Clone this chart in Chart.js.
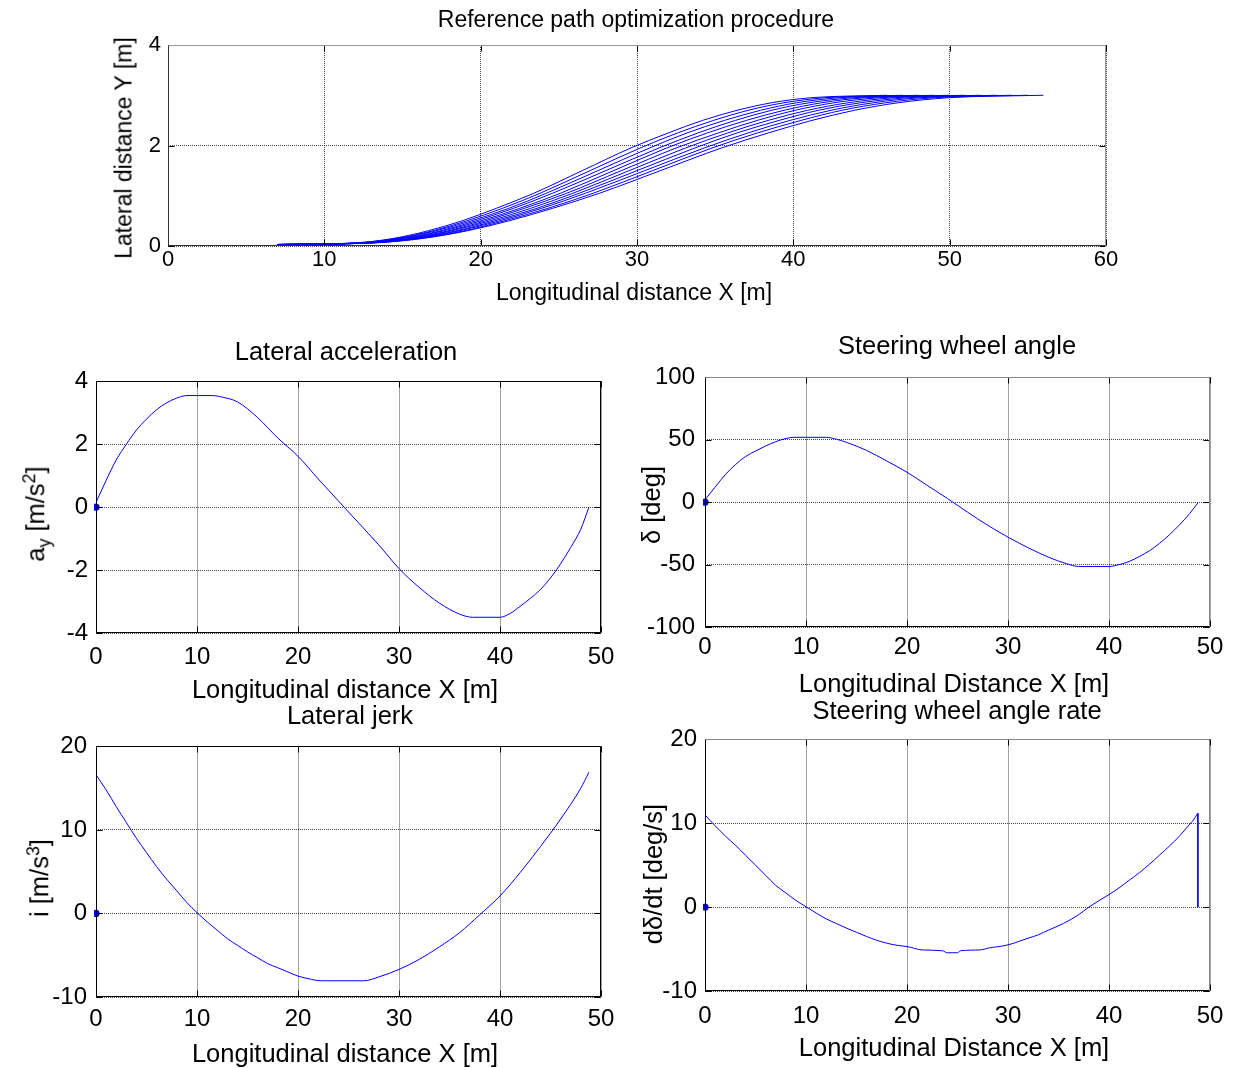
<!DOCTYPE html>
<html>
<head>
<meta charset="utf-8">
<script src="https://cdn.jsdelivr.net/npm/chart.js@4.4.1/dist/chart.umd.min.js"></script>
<style>
  html, body { margin: 0; padding: 0; background: #fff; }
  body { width: 1237px; height: 1068px; position: relative; overflow: hidden;
         font-family: "Liberation Sans", Arial, sans-serif; color: #000; }
  canvas { position: absolute; }
  .lbl { position: absolute; white-space: nowrap; line-height: 1; transform: translate(-50%, -50%); }
  .rot { transform: translate(-50%, -50%) rotate(-90deg); }
  sub, sup { font-size: 70%; line-height: 0; }
</style>
</head>
<body>
<script>
// values

// top plot: family of candidate paths, shared lateral levels, one x list per path
const pathY = [0.03, 0.06, 0.15, 0.3, 0.5, 0.75, 1.05, 1.5, 1.95, 2.25, 2.5, 2.7, 2.85, 2.95, 3.0];
const pathX = [
  [7, 11.9, 14.4, 16.6, 18.8, 21.0, 23.4, 26.5, 29.6, 32.0, 34.2, 36.4, 38.6, 41.1, 46],
  [7, 12.0, 14.6, 16.9, 19.1, 21.4, 23.8, 27.0, 30.2, 32.6, 34.9, 37.1, 39.4, 42.0, 47],
  [7, 12.1, 14.8, 17.1, 19.4, 21.8, 24.2, 27.5, 30.8, 33.2, 35.6, 37.9, 40.2, 42.9, 48],
  [7, 12.3, 15.0, 17.4, 19.7, 22.1, 24.6, 28.0, 31.4, 33.9, 36.3, 38.6, 41.0, 43.8, 49],
  [7, 12.4, 15.2, 17.6, 20.0, 22.5, 25.1, 28.5, 31.9, 34.5, 37.0, 39.4, 41.8, 44.6, 50],
  [7, 12.5, 15.4, 17.9, 20.3, 22.8, 25.5, 29.0, 32.5, 35.2, 37.7, 40.1, 42.6, 45.5, 51],
  [7, 12.6, 15.6, 18.1, 20.6, 23.2, 25.9, 29.5, 33.1, 35.8, 38.4, 40.9, 43.5, 46.4, 52],
  [7, 12.8, 15.7, 18.4, 20.9, 23.6, 26.3, 30.0, 33.7, 36.4, 39.1, 41.6, 44.3, 47.3, 53],
  [7, 12.9, 15.9, 18.6, 21.2, 23.9, 26.7, 30.5, 34.3, 37.1, 39.8, 42.4, 45.1, 48.1, 54],
  [7, 13.0, 16.1, 18.9, 21.5, 24.3, 27.2, 31.0, 34.8, 37.7, 40.5, 43.1, 45.9, 49.0, 55],
  [7, 13.1, 16.3, 19.1, 21.8, 24.6, 27.6, 31.5, 35.4, 38.4, 41.2, 43.9, 46.7, 49.9, 56],
];

// lateral acceleration a_y [m/s^2]
const ayX = [0, 1, 2, 3, 4, 5, 6, 7, 8, 9, 11.5, 12.5, 14, 16, 18, 20, 22, 24, 26, 28, 30,
             32, 34, 36, 37.3, 40, 41, 42, 43, 44, 45, 46, 47, 48, 48.8];
const ayY = [0.15, 0.85, 1.5, 2.0, 2.45, 2.8, 3.1, 3.32, 3.47, 3.55, 3.55, 3.5, 3.35, 2.85, 2.2, 1.62, 0.9, 0.2, -0.5, -1.2, -1.95,
             -2.55, -3.05, -3.4, -3.5, -3.5, -3.38, -3.15, -2.9, -2.62, -2.25, -1.8, -1.28, -0.7, 0];

// steering wheel angle delta [deg]
const deltaX = [0, 1, 2, 3, 4, 5, 6, 7, 8, 8.8, 12, 13, 14, 16, 18, 20, 22, 24, 26, 28, 30,
                32, 34, 35.8, 37, 40, 41, 42, 43, 44, 45, 46, 47, 48, 48.8];
const deltaY = [2, 12, 22, 30, 36.5, 41, 45, 48.5, 51, 52, 52, 50.5, 48, 41.5, 33, 24, 13.5, 3, -8, -18.5, -28,
                -36.5, -44, -49.3, -51.5, -51.5, -50, -47.5, -43.5, -39, -33, -26, -18, -9, -0.5];

// lateral jerk i [m/s^3]
const jerkX = [0, 1, 2, 3, 4, 5, 6, 7, 8, 9, 10, 11, 12, 13, 14, 15, 16, 17, 18, 19, 20, 21, 22.3,
               26.5, 28, 30, 32, 34, 36, 38, 40, 42, 44, 46, 48, 48.8];
const jerkY = [16.6, 14.8, 12.8, 10.9, 9.0, 7.3, 5.6, 4.1, 2.7, 1.3, 0.1, -1.0, -2.0, -3.0, -3.8, -4.6, -5.3, -6.0, -6.5, -7.0, -7.5, -7.8, -8.06,
               -8.06, -7.6, -6.7, -5.5, -4.0, -2.3, -0.15, 2.1, 4.9, 8.0, 11.3, 15.0, 16.9];

// steering wheel angle rate d(delta)/dt [deg/s]; last two points are the drop at the end
const rateX = [0, 1, 2, 3, 4, 5, 6, 7, 8, 9, 10, 11, 12, 13, 14, 15, 16, 17, 18, 19, 20, 21.5, 23.5,
               24, 25, 25.3, 27.3, 28, 30, 32, 33, 34, 35.5, 37, 38, 40, 41, 42, 43, 44, 45, 46, 47, 48, 48.3, 48.8, 48.8];
const rateY = [11, 9.7, 8.5, 7.4, 6.2, 5.0, 3.8, 2.6, 1.7, 0.8, 0.05, -0.7, -1.4, -1.95, -2.5, -3.0, -3.5, -3.95, -4.3, -4.55, -4.7, -5.1, -5.2,
               -5.44, -5.44, -5.2, -5.1, -4.9, -4.5, -3.7, -3.3, -2.75, -1.94, -0.9, 0, 1.5, 2.3, 3.2, 4.1, 5.1, 6.2, 7.3, 8.5, 9.9, 10.3, 11.2, 0];

// start marker drawn in the four lower plots
const startX = [0];
const startY = [0];

// ---------------------------------------------------------------------------

const FONT = '"Liberation Sans", Arial, sans-serif';
const BLUE = "rgb(0,0,255)";

const framePlugin = {
  id: "frame",
  afterDatasetsDraw(chart, args, opts) {
    const { ctx, chartArea: a, scales: { x, y } } = chart;
    const L = Math.round(a.left) + 0.5, R = Math.round(a.right) - 0.5;
    const T = Math.round(a.top) + 0.5, B = Math.round(a.bottom) - 0.5;
    const tl = 6;
    ctx.save();
    ctx.lineWidth = 1;
    ctx.strokeStyle = "#000";
    ctx.beginPath();
    for (const t of x.ticks) {
      const px = Math.round(x.getPixelForValue(t.value)) + 0.5;
      ctx.moveTo(px, B); ctx.lineTo(px, B - tl);
      ctx.moveTo(px, T); ctx.lineTo(px, T + tl);
    }
    for (const t of y.ticks) {
      const py = Math.round(y.getPixelForValue(t.value)) + 0.5;
      ctx.moveTo(L, py); ctx.lineTo(L + tl, py);
      ctx.moveTo(R, py); ctx.lineTo(R - tl, py);
    }
    ctx.stroke();
    // left + bottom axis lines
    ctx.strokeStyle = opts.lb || "#000";
    ctx.beginPath();
    ctx.moveTo(L, T); ctx.lineTo(L, B); ctx.lineTo(R, B);
    ctx.stroke();
    // top + right edges
    ctx.strokeStyle = opts.tr || "#000";
    ctx.beginPath();
    ctx.moveTo(L, T); ctx.lineTo(R, T); ctx.lineTo(R, B);
    ctx.stroke();
    ctx.restore();
  }
};

function pts(xs, ys) {
  return xs.map((x, i) => ({ x, y: ys[i] }));
}

function lineSet(data, extra) {
  return Object.assign({
    data, borderColor: BLUE, borderWidth: 1, pointRadius: 0,
    tension: 0, fill: false, cubicInterpolationMode: "monotone",
  }, extra || {});
}

function startDot() {
  return {
    data: pts(startX, startY), showLine: false, pointRadius: 3.6,
    pointBackgroundColor: BLUE, pointBorderColor: BLUE, pointBorderWidth: 0,
    clip: 2,
  };
}

function makePlot(box, cfg) {
  const padL = 90, padT = 22, padR = 32, padB = 48;
  const w = box.r - box.l + padL + padR, h = box.b - box.t + padT + padB;
  const c = document.createElement("canvas");
  c.width = w; c.height = h;
  c.style.left = (box.l - padL) + "px";
  c.style.top = (box.t - padT) + "px";
  c.style.width = w + "px"; c.style.height = h + "px";
  document.body.appendChild(c);

  const grid = { color: "rgba(0,0,0,0.72)", lineWidth: 1, drawTicks: false };
  const border = { display: false, dash: [1, 1] };
  const tickFont = { family: FONT, size: cfg.tickSize };

  return new Chart(c, {
    type: "line",
    data: { datasets: cfg.datasets },
    options: {
      responsive: false, animation: false, devicePixelRatio: 1,
      events: [],
      layout: { padding: { top: padT, right: padR, left: 0, bottom: 0 } },
      plugins: { legend: { display: false }, tooltip: { enabled: false },
                 frame: cfg.frame || {} },
      scales: {
        x: {
          type: "linear", min: cfg.x[0], max: cfg.x[1],
          afterFit: s => { s.height = padB; },
          ticks: { stepSize: cfg.x[2], color: "#000", font: tickFont, padding: cfg.xPad,
                   maxRotation: 0, autoSkip: false },
          grid, border,
        },
        y: {
          type: "linear", min: cfg.y[0], max: cfg.y[1],
          afterFit: s => { s.width = padL; },
          ticks: { stepSize: cfg.y[2], color: "#000", font: tickFont, padding: cfg.yPad,
                   autoSkip: false },
          grid, border,
        },
      },
    },
    plugins: [framePlugin],
  });
}

function label(html, cx, cy, size, rotated) {
  const d = document.createElement("div");
  d.className = "lbl" + (rotated ? " rot" : "");
  d.style.left = cx + "px";
  d.style.top = cy + "px";
  d.style.fontSize = size + "px";
  d.innerHTML = html;
  document.body.appendChild(d);
}

// plot boxes (axes rectangles) in page pixels
const TOP = { l: 168, t: 45, r: 1106, b: 246 };
const ML = { l: 96, t: 381, r: 601, b: 633 };
const MR = { l: 705, t: 375, r: 1210, b: 627 };
const BL = { l: 96, t: 745, r: 601, b: 997 };
const BR = { l: 705, t: 739, r: 1210, b: 991 };

makePlot(TOP, {
  x: [0, 60, 10], y: [0, 4, 2], tickSize: 22, xPad: 1, yPad: 7,
  frame: { lb: "#333", tr: "#999" },
  datasets: pathX.map(xs => lineSet(pts(xs, pathY))),
});

makePlot(ML, {
  x: [0, 50, 10], y: [-4, 4, 2], tickSize: 24, xPad: 10, yPad: 8,
  datasets: [lineSet(pts(ayX, ayY)), startDot()],
});

makePlot(MR, {
  x: [0, 50, 10], y: [-100, 100, 50], tickSize: 24, xPad: 6, yPad: 10,
  frame: { lb: "#000", tr: "#888" },
  datasets: [lineSet(pts(deltaX, deltaY)), startDot()],
});

makePlot(BL, {
  x: [0, 50, 10], y: [-10, 20, 10], tickSize: 24, xPad: 8, yPad: 9,
  datasets: [lineSet(pts(jerkX, jerkY)), startDot()],
});

const n = rateX.length;
makePlot(BR, {
  x: [0, 50, 10], y: [-10, 20, 10], tickSize: 24, xPad: 11, yPad: 8,
  frame: { lb: "#000", tr: "#888" },
  datasets: [
    lineSet(pts(rateX.slice(0, n - 1), rateY.slice(0, n - 1))),
    lineSet(pts(rateX.slice(n - 2), rateY.slice(n - 2)), { cubicInterpolationMode: "default" }),
    startDot(),
  ],
});

// titles and axis labels
label("Reference path optimization procedure", 636, 19, 23);
label("Longitudinal distance X [m]", 634, 292, 23);
label("Lateral distance Y [m]", 124, 148, 23, true);

label("Lateral acceleration", 346, 352, 25.5);
label("Longitudinal distance X [m]", 345, 690, 25.5);
label("a<sub>y</sub> [m/s<sup>2</sup>]", 36, 514, 25.5, true);

label("Steering wheel angle", 957, 346, 25.5);
label("Longitudinal Distance X [m]", 954, 684, 25.5);
label("&delta; [deg]", 652, 505, 25.5, true);

label("Lateral jerk", 350, 716, 25.5);
label("Longitudinal distance X [m]", 345, 1054, 25.5);
label("i [m/s<sup>3</sup>]", 40, 878, 25.5, true);

label("Steering wheel angle rate", 957, 711, 25.5);
label("Longitudinal Distance X [m]", 954, 1048, 25.5);
label("d&delta;/dt [deg/s]", 654, 874, 25.5, true);
</script>
</body>
</html>
